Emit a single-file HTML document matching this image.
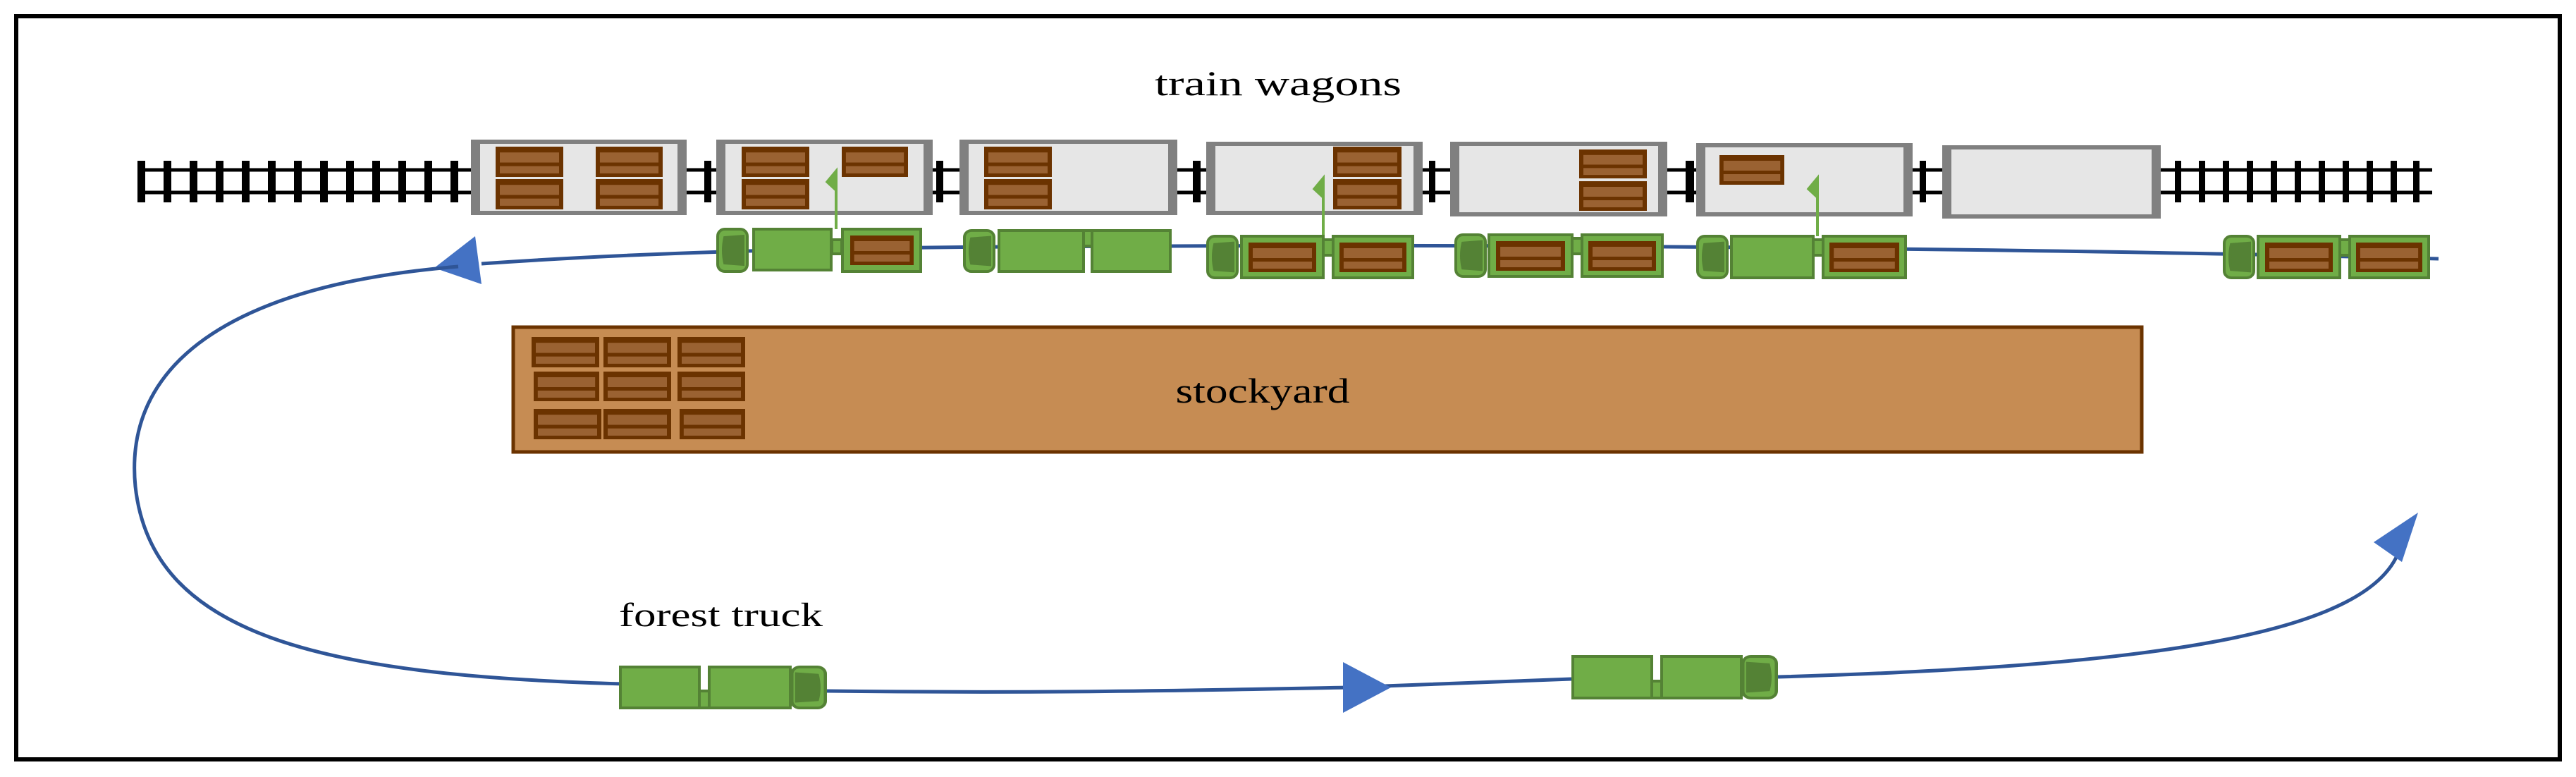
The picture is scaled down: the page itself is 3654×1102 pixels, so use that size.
<!DOCTYPE html>
<html><head><meta charset="utf-8"><style>html,body{margin:0;padding:0;background:#fff}svg{display:block}</style></head>
<body>
<svg width="3654" height="1102" viewBox="0 0 3654 1102" xmlns="http://www.w3.org/2000/svg">
<defs>
<symbol id="cr" viewBox="0 0 96 42" preserveAspectRatio="none">
<rect x="0" y="0" width="96" height="42" fill="#6B3300"/>
<rect x="6" y="8" width="84" height="14" fill="#9A6232"/>
<rect x="6" y="27" width="84" height="10" fill="#9A6232"/>
</symbol>
<symbol id="cab" viewBox="0 0 46 64" preserveAspectRatio="none">
<rect x="2" y="2" width="42" height="60" rx="10" fill="#70AD47" stroke="#548235" stroke-width="4"/>
<path d="M12 14 Q8 32 12 50 L38 52 L38 12 Z" fill="#548235"/>
</symbol>
<symbol id="cabR" viewBox="0 0 46 64" preserveAspectRatio="none">
<rect x="2" y="2" width="42" height="60" rx="10" fill="#70AD47" stroke="#548235" stroke-width="4"/>
<path d="M34 14 Q38 32 34 50 L8 52 L8 12 Z" fill="#548235"/>
</symbol>
</defs>
<rect x="23" y="23" width="3608" height="1054" fill="#fff" stroke="#000" stroke-width="6"/>

<text x="1813" y="135" font-family="Liberation Serif, serif" font-size="50" text-anchor="middle" textLength="350" lengthAdjust="spacingAndGlyphs">train wagons</text>

<!-- rails -->
<g stroke="#000" stroke-width="5">
<line x1="195" y1="241" x2="3450" y2="241"/>
<line x1="195" y1="273" x2="3450" y2="273"/>
</g>
<g fill="#000">
<rect x="195" y="228" width="11" height="59"/><rect x="232" y="228" width="11" height="59"/><rect x="269" y="228" width="11" height="59"/><rect x="306" y="228" width="11" height="59"/><rect x="343" y="228" width="11" height="59"/><rect x="380" y="228" width="11" height="59"/><rect x="417" y="228" width="11" height="59"/><rect x="454" y="228" width="11" height="59"/><rect x="491" y="228" width="11" height="59"/><rect x="528" y="228" width="11" height="59"/><rect x="565" y="228" width="11" height="59"/><rect x="602" y="228" width="11" height="59"/><rect x="639" y="228" width="11" height="59"/>
<rect x="999" y="228" width="10" height="59"/><rect x="1328" y="228" width="10" height="59"/><rect x="1692" y="228" width="11" height="59"/><rect x="2027" y="228" width="9" height="59"/><rect x="2391" y="228" width="12" height="59"/><rect x="2723" y="228" width="9" height="59"/>
<rect x="3085" y="228" width="9" height="59"/><rect x="3119" y="228" width="9" height="59"/><rect x="3153" y="228" width="9" height="59"/><rect x="3187" y="228" width="9" height="59"/><rect x="3221" y="228" width="9" height="59"/><rect x="3255" y="228" width="9" height="59"/><rect x="3289" y="228" width="9" height="59"/><rect x="3323" y="228" width="9" height="59"/><rect x="3357" y="228" width="9" height="59"/><rect x="3391" y="228" width="9" height="59"/><rect x="3423" y="228" width="9" height="59"/>
</g>

<!-- wagons -->
<g>
<rect x="668" y="198" width="306" height="107" fill="#808080"/><rect x="681" y="204" width="280" height="95" fill="#E6E6E6"/>
<rect x="1016" y="198" width="307" height="107" fill="#808080"/><rect x="1029" y="204" width="281" height="95" fill="#E6E6E6"/>
<rect x="1361" y="198" width="309" height="107" fill="#808080"/><rect x="1374" y="204" width="283" height="95" fill="#E6E6E6"/>
<rect x="1711" y="201" width="307" height="104" fill="#808080"/><rect x="1724" y="207" width="281" height="92" fill="#E6E6E6"/>
<rect x="2057" y="201" width="308" height="106" fill="#808080"/><rect x="2070" y="207" width="282" height="94" fill="#E6E6E6"/>
<rect x="2406" y="203" width="307" height="104" fill="#808080"/><rect x="2419" y="209" width="281" height="92" fill="#E6E6E6"/>
<rect x="2755" y="206" width="310" height="104" fill="#808080"/><rect x="2768" y="212" width="284" height="92" fill="#E6E6E6"/>
</g>
<!-- wagon crates -->
<use href="#cr" x="703" y="208" width="96" height="43"/><use href="#cr" x="703" y="254" width="96" height="43"/>
<use href="#cr" x="845" y="208" width="95" height="43"/><use href="#cr" x="845" y="254" width="95" height="43"/>
<use href="#cr" x="1052" y="208" width="96" height="43"/><use href="#cr" x="1052" y="254" width="96" height="43"/>
<use href="#cr" x="1194" y="208" width="94" height="43"/>
<use href="#cr" x="1396" y="208" width="96" height="43"/><use href="#cr" x="1396" y="254" width="96" height="43"/>
<use href="#cr" x="1891" y="208" width="97" height="43"/><use href="#cr" x="1891" y="254" width="97" height="43"/>
<use href="#cr" x="2240" y="212" width="96" height="41"/><use href="#cr" x="2240" y="257" width="96" height="42"/>
<use href="#cr" x="2439" y="220" width="92" height="42"/>

<!-- top road -->
<path d="M3459 367 C 3000 355 2300 346 1660 349 C 1300 350 1000 352 683 374" fill="none" stroke="#2F5597" stroke-width="5"/>
<polygon points="616,380 674,335 683,403" fill="#4472C4"/>
<path d="M650 378 C 320 405 175 520 192 690 C 215 900 450 958 885 970" fill="none" stroke="#2F5597" stroke-width="5"/>
<path d="M1173 980 C 1500 984 1750 978 1910 975 L 2229 963 M2522 960 C 3050 945 3370 900 3405 775" fill="none" stroke="#2F5597" stroke-width="5"/>
<polygon points="1905,939 1973,975 1905,1011" fill="#4472C4"/>
<polygon points="3430,727 3367,769 3407,797" fill="#4472C4"/>

<!-- green arrows -->
<g stroke="#70AD47" stroke-width="4" fill="#70AD47">
<line x1="1186" y1="325" x2="1186" y2="250"/><polygon points="1187,240 1172,258 1187,272" stroke-width="2"/>
<line x1="1877" y1="335" x2="1877" y2="260"/><polygon points="1878,250 1863,268 1878,282" stroke-width="2"/>
<line x1="2578" y1="335" x2="2578" y2="260"/><polygon points="2579,250 2564,268 2579,282" stroke-width="2"/>
</g>

<!-- top trucks -->
<g stroke="#548235" stroke-width="4" fill="#70AD47">
<!-- truck1 -->
<use href="#cab" x="1016" y="323" width="46" height="64"/>
<rect x="1069" y="325" width="110" height="58"/><rect x="1180" y="340" width="14" height="20"/><rect x="1195" y="325" width="111" height="60"/>
<!-- truck2 -->
<use href="#cab" x="1366" y="325" width="46" height="62"/>
<rect x="1417" y="327" width="120" height="58"/><rect x="1537" y="327" width="12" height="22"/><rect x="1549" y="327" width="111" height="58"/>
<!-- truck3 -->
<use href="#cab" x="1711" y="333" width="46" height="63"/>
<rect x="1761" y="335" width="116" height="59"/><rect x="1877" y="340" width="14" height="22"/><rect x="1891" y="335" width="113" height="59"/>
<!-- truck4 -->
<use href="#cab" x="2063" y="331" width="46" height="63"/>
<rect x="2112" y="333" width="118" height="59"/><rect x="2230" y="338" width="14" height="22"/><rect x="2244" y="333" width="114" height="59"/>
<!-- truck5 -->
<use href="#cab" x="2406" y="333" width="46" height="63"/>
<rect x="2456" y="335" width="116" height="59"/><rect x="2572" y="340" width="14" height="22"/><rect x="2586" y="335" width="117" height="59"/>
<!-- truck6 -->
<use href="#cab" x="3153" y="333" width="46" height="63"/>
<rect x="3203" y="335" width="116" height="59"/><rect x="3319" y="340" width="14" height="22"/><rect x="3333" y="335" width="112" height="59"/>
</g>
<use href="#cr" x="1206" y="334" width="90" height="42"/>
<use href="#cr" x="1771" y="344" width="96" height="42"/><use href="#cr" x="1900" y="344" width="95" height="42"/>
<use href="#cr" x="2122" y="342" width="98" height="42"/><use href="#cr" x="2253" y="342" width="96" height="42"/>
<use href="#cr" x="2595" y="344" width="99" height="42"/>
<use href="#cr" x="3213" y="344" width="96" height="42"/><use href="#cr" x="3342" y="344" width="94" height="42"/>

<!-- stockyard -->
<rect x="728" y="464" width="2310" height="177" fill="#C68C53" stroke="#6B3300" stroke-width="5"/>
<use href="#cr" x="754" y="478" width="96" height="43"/><use href="#cr" x="856" y="478" width="96" height="43"/><use href="#cr" x="961" y="478" width="96" height="43"/>
<use href="#cr" x="757" y="527" width="93" height="42"/><use href="#cr" x="856" y="527" width="96" height="42"/><use href="#cr" x="961" y="527" width="96" height="42"/>
<use href="#cr" x="757" y="580" width="96" height="43"/><use href="#cr" x="856" y="580" width="96" height="43"/><use href="#cr" x="964" y="580" width="93" height="43"/>
<text x="1791" y="571" font-family="Liberation Serif, serif" font-size="50" text-anchor="middle" textLength="247" lengthAdjust="spacingAndGlyphs">stockyard</text>

<!-- bottom trucks -->
<text x="878" y="888" font-family="Liberation Serif, serif" font-size="48" textLength="289" lengthAdjust="spacingAndGlyphs">forest truck</text>
<g stroke="#548235" stroke-width="4" fill="#70AD47">
<rect x="880" y="946" width="112" height="58"/><rect x="992" y="980" width="14" height="24"/><rect x="1006" y="946" width="115" height="58"/>
<use href="#cabR" x="1121" y="944" width="52" height="62"/>
<rect x="2231" y="931" width="112" height="59"/><rect x="2343" y="966" width="14" height="24"/><rect x="2357" y="931" width="113" height="59"/>
<use href="#cabR" x="2470" y="929" width="52" height="63"/>
</g>
</svg>
</body></html>
